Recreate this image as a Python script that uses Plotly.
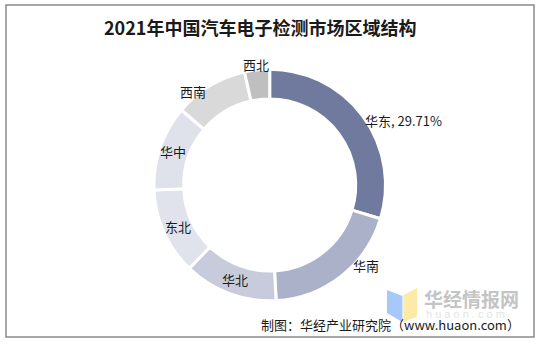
import math
import plotly.graph_objects as go

# Regional structure of China's automotive electronics testing market, 2021 (%)
regions = ["华东", "华南", "华北", "东北", "华中", "西南", "西北"]
shares = [29.71, 19.4, 13.1, 12.1, 11.9, 10.3, 3.49]
slice_colors = ["#6f7a9e", "#abb1c9", "#c7cbdb", "#e0e3eb", "#dfe2ea", "#d9d9d9", "#bfbfbf"]

title_text = "2021年中国汽车电子检测市场区域结构"
source_text = "制图：华经产业研究院（www.huaon.com）"

W, H = 541, 344
CX, CY, R = 269.7, 185.0, 115.8   # ring centre and outer radius, px
HOLE = 0.743

# label placement: distance from centre (px) and angular nudge (deg)
label_radius = [113, 125, 101, 101, 102, 121, 121]
label_nudge = [2, -12, 0, 0, 0, -8, 0]


def px(x, y):
    return x / W, 1 - y / H


fig = go.Figure(go.Pie(
    labels=regions,
    values=shares,
    sort=False,
    direction="clockwise",
    rotation=0,
    hole=HOLE,
    textinfo="none",
    hoverinfo="label+percent",
    marker=dict(colors=slice_colors, line=dict(color="white", width=3)),
    domain=dict(x=[(CX - R) / W, (CX + R) / W], y=[1 - (CY + R) / H, 1 - (CY - R) / H]),
    showlegend=False,
))

# data labels positioned from each slice's mid-angle
total = sum(shares)
annotations = []
acc = 0.0
for i, (name, v) in enumerate(zip(regions, shares)):
    mid = (acc + v / 2) / total * 360 + label_nudge[i]
    acc += v
    r = label_radius[i]
    lx = CX + r * math.sin(math.radians(mid))
    ly = CY - r * math.cos(math.radians(mid))
    x, y = px(lx, ly)
    text = f"{name}, {v:.2f}%" if i == 0 else name
    annotations.append(dict(
        x=x, y=y, xref="paper", yref="paper", text=text, showarrow=False,
        xanchor="left" if i == 0 else "center", yanchor="middle",
        font=dict(family="Noto Sans CJK SC", size=13, color="#1a1a1a"),
    ))

# title
tx, ty = px(260, 26.5)
annotations.append(dict(
    x=tx, y=ty, xref="paper", yref="paper", text=f"<b>{title_text}</b>", showarrow=False,
    xanchor="center", yanchor="middle",
    font=dict(family="Noto Sans CJK SC", size=18, color="#1a1a1a"),
))

# watermark
wx, wy = px(471, 298)
annotations.append(dict(
    x=wx, y=wy, xref="paper", yref="paper", text="<b>华经情报网</b>", showarrow=False,
    xanchor="center", yanchor="middle",
    font=dict(family="Noto Sans CJK SC", size=19, color="#c4c4c4"),
))
hx, hy = px(465, 314)
annotations.append(dict(
    x=hx, y=hy, xref="paper", yref="paper", text="h u a o n . c o m", showarrow=False,
    xanchor="center", yanchor="middle",
    font=dict(family="Liberation Sans", size=11, color="#e4e4e4"),
))

# source note
sx, sy = px(522, 324)
annotations.append(dict(
    x=sx, y=sy, xref="paper", yref="paper", text=source_text, showarrow=False,
    xanchor="right", yanchor="middle",
    font=dict(family="Noto Sans CJK SC", size=13, color="#1a1a1a"),
))


def path(points):
    parts = []
    for k, (x, y) in enumerate(points):
        u, v = px(x, y)
        parts.append(("M" if k == 0 else "L") + f"{u:.5f},{v:.5f}")
    return " ".join(parts) + " Z"


b0 = px(6, 337)
b1 = px(534, 5)
shapes = [
    dict(type="rect", xref="paper", yref="paper", x0=b0[0], y0=b0[1], x1=b1[0], y1=b1[1],
         line=dict(color="#8a8a8a", width=1.5), fillcolor="rgba(0,0,0,0)", layer="above"),
    dict(type="path", xref="paper", yref="paper",
         path=path([(387, 290), (402.5, 296), (402.5, 322), (387, 313)]),
         fillcolor="#a7c9f9", line=dict(width=0), layer="above"),
    dict(type="path", xref="paper", yref="paper",
         path=path([(403.5, 295), (417, 288), (417, 316.5), (403.5, 322)]),
         fillcolor="#fdeaa6", line=dict(width=0), layer="above"),
]

fig.update_layout(
    width=W, height=H,
    margin=dict(l=0, r=0, t=0, b=0),
    paper_bgcolor="white",
    plot_bgcolor="white",
    annotations=annotations,
    shapes=shapes,
)

fig.write_html("out.html")
